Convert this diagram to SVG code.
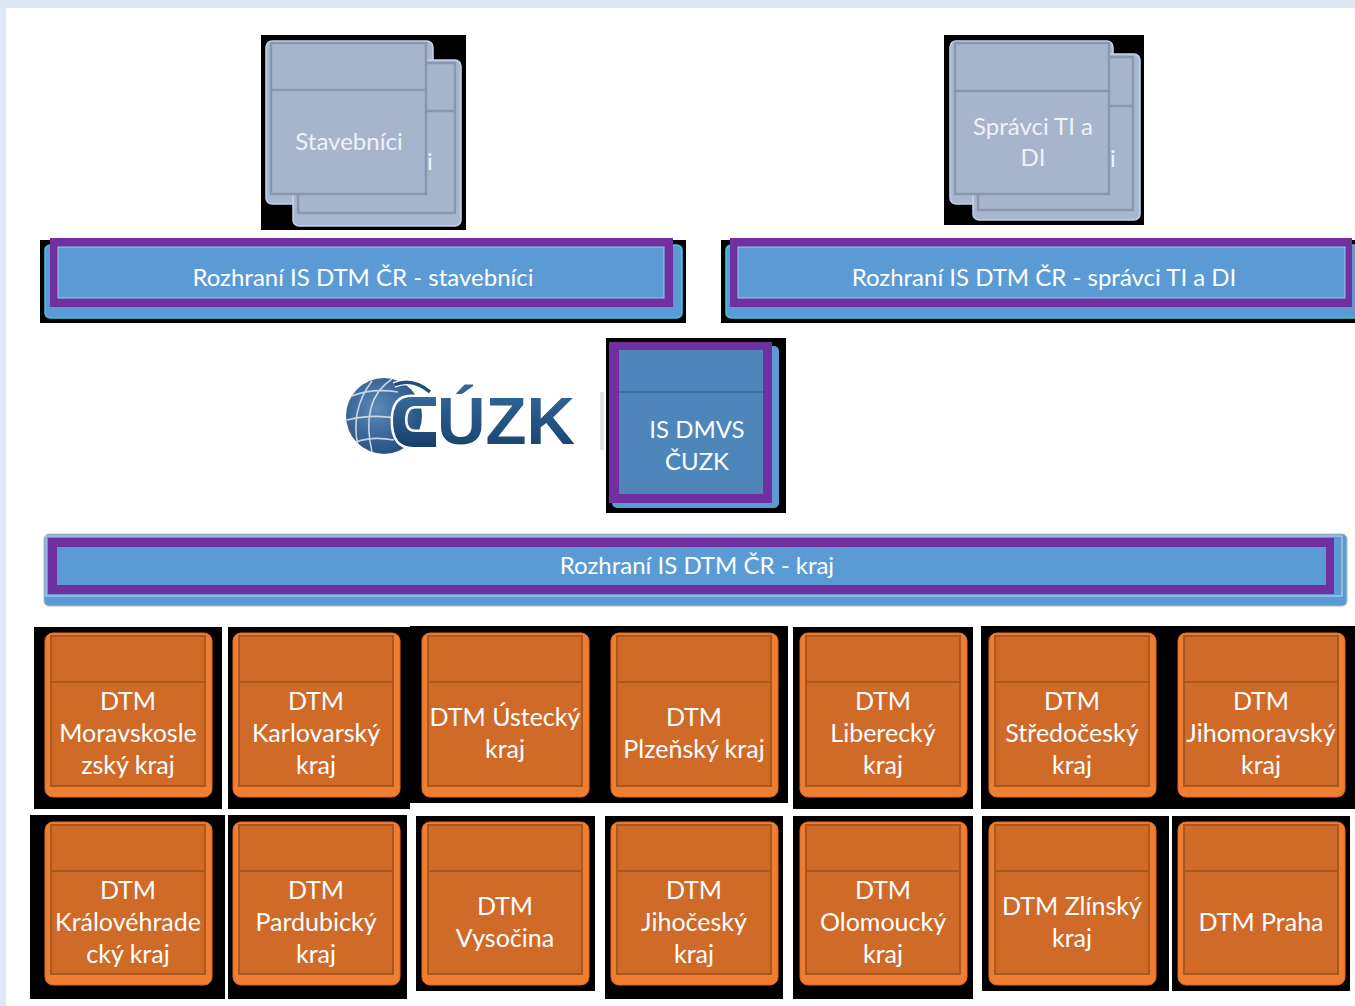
<svg xmlns="http://www.w3.org/2000/svg" width="1355" height="1006" viewBox="0 0 1355 1006">
<defs>
<style>
.bk{fill:#000}
.txt{font-family:Lato,"Liberation Sans",sans-serif;fill:#fff;text-anchor:middle;font-size:24px}
.tt{font-family:Lato,"Liberation Sans",sans-serif;fill:#fff;text-anchor:middle;font-size:25px}
.gtxt{font-family:Lato,"Liberation Sans",sans-serif;fill:#eef2f8;text-anchor:middle;font-size:24px}
.to{fill:#ef7e31;stroke:#e0662a;stroke-width:1}
.ti{fill:#d06a29;stroke:#a9591f;stroke-width:2}
.th{stroke:#a9591f;stroke-width:2}
.go{fill:#a9b8d0;stroke:#c3d3ee;stroke-width:1.5}
.gi{fill:#a6b5cc;stroke:#8697ae;stroke-width:2.5}
.gh{stroke:#8697ae;stroke-width:2.5}
.pur{fill:#7030a0}
.bar{fill:#5b9bd5}
.barb{fill:#5b9bd5;stroke:#3fc7dd;stroke-width:1.5}
</style>
<radialGradient id="globe" cx="0.4" cy="0.4" r="0.7">
<stop offset="0" stop-color="#5b89b8"/>
<stop offset="1" stop-color="#1d4a7a"/>
</radialGradient>
<linearGradient id="logoTxt" x1="0" y1="0" x2="0" y2="1">
<stop offset="0" stop-color="#35699c"/>
<stop offset="1" stop-color="#163f6b"/>
</linearGradient>
</defs>

<rect width="1355" height="1006" fill="#fff"/>
<rect x="0" y="0" width="1355" height="8" fill="#dde8f4"/>
<rect x="0" y="0" width="6" height="1006" fill="#dde8f4"/>

<g id="backdrops">
<rect class="bk" x="261" y="35" width="205" height="195"/>
<rect class="bk" x="944" y="35" width="200" height="190"/>
<rect class="bk" x="40" y="240" width="646" height="83"/>
<rect class="bk" x="721" y="240" width="634" height="83"/>
<rect class="bk" x="606" y="338" width="180" height="175"/>
<rect class="bk" x="34" y="627" width="188" height="182"/>
<rect class="bk" x="228" y="627" width="182" height="182"/>
<rect class="bk" x="410" y="626" width="378" height="177"/>
<rect class="bk" x="793" y="627" width="180" height="182"/>
<rect class="bk" x="981" y="626" width="374" height="183"/>
<rect class="bk" x="30" y="815" width="195" height="184"/>
<rect class="bk" x="228" y="815" width="179" height="184"/>
<rect class="bk" x="416" y="816" width="179" height="175"/>
<rect class="bk" x="605" y="816" width="178" height="183"/>
<rect class="bk" x="793" y="816" width="180" height="183"/>
<rect class="bk" x="982" y="816" width="187" height="175"/>
<rect class="bk" x="1172" y="816" width="178" height="175"/>
</g>

<g id="connectors"></g>

<g id="stavebnici">
<rect class="go" x="266" y="41" width="167" height="163" rx="6"/>
<rect class="go" x="293" y="60" width="168" height="166" rx="6"/>
<rect class="gi" x="298" y="63" width="157" height="150"/>
<line class="gh" x1="298" y1="111" x2="455" y2="111"/>
<text class="gtxt" x="430" y="170">i</text>
<rect class="gi" x="271" y="43" width="155" height="151"/>
<line class="gh" x1="271" y1="90" x2="426" y2="90"/>
<text class="gtxt" x="349" y="150">Stavebníci</text>
</g>

<g id="spravci">
<rect class="go" x="950" y="41" width="163" height="163" rx="6"/>
<rect class="go" x="973" y="54" width="167" height="166" rx="6"/>
<rect class="gi" x="978" y="57" width="155" height="153"/>
<line class="gh" x1="978" y1="106" x2="1133" y2="106"/>
<text class="gtxt" x="1113" y="167">i</text>
<rect class="gi" x="955" y="43" width="154" height="151"/>
<line class="gh" x1="955" y1="91" x2="1109" y2="91"/>
<text class="gtxt" x="1033" y="135">Správci TI a</text>
<text class="gtxt" x="1033" y="166">DI</text>
</g>

<g id="rozhrani-stavebnici">
<rect class="barb" x="45" y="245" width="637" height="73" rx="5"/>
<rect class="pur" x="50" y="238" width="623" height="69"/>
<rect class="bar" x="58" y="247" width="606" height="51" stroke="#9cc2e8" stroke-width="1"/>
<text class="txt" x="363" y="286">Rozhraní IS DTM ČR - stavebníci</text>
</g>

<g id="rozhrani-spravci">
<rect class="barb" x="726" y="245" width="640" height="73" rx="5"/>
<rect class="pur" x="730" y="238" width="622" height="69"/>
<rect class="bar" x="738" y="247" width="607" height="51" stroke="#9cc2e8" stroke-width="1"/>
<text class="txt" x="1044" y="286">Rozhraní IS DTM ČR - správci TI a DI</text>
</g>

<g id="logo-cuzk">
<circle cx="384" cy="416" r="38" fill="url(#globe)"/>
<g fill="none" stroke="#e8eef6" stroke-width="1.6" opacity="0.8">
<path d="M392 379 Q360 400 372 452"/>
<path d="M372 381 Q350 410 358 446"/>
<path d="M352 396 Q372 388 398 392"/>
<path d="M347 420 Q370 414 396 418"/>
<path d="M356 442 Q372 436 394 440"/>
</g>
<path d="M436 397 L411 397 Q393 397 393 421 Q393 447 413 447 L436 447 L436 432 L415 432 Q405 432 405 420 Q405 406 415 406 L436 406 Z" fill="none" stroke="#fff" stroke-width="5"/>
<path d="M436 397 L411 397 Q393 397 393 421 Q393 447 413 447 L436 447 L436 432 L415 432 Q405 432 405 420 Q405 406 415 406 L436 406 Z" fill="url(#logoTxt)"/>
<path d="M394 385 Q412 377 430 392" fill="none" stroke="#fff" stroke-width="6"/>
<path d="M394 385 Q412 377 430 392" fill="none" stroke="#1f4f80" stroke-width="3.5"/>
<text x="437" y="444" font-family="'Liberation Sans',Arial,sans-serif" font-weight="bold" font-size="66" fill="url(#logoTxt)" textLength="138" lengthAdjust="spacingAndGlyphs">ÚZK</text>
<rect x="600" y="392" width="4" height="58" fill="#e2e2e2"/>
</g>

<g id="is-dmvs">
<rect x="612" y="346" width="167" height="162" rx="5" fill="#5b9bd5"/>
<rect class="pur" x="609" y="342" width="163" height="161"/>
<rect x="619" y="350" width="144" height="144" fill="#4e86bc"/>
<line x1="619" y1="392" x2="763" y2="392" stroke="#3e6f9d" stroke-width="2"/>
<text class="txt" x="697" y="438">IS DMVS</text>
<text class="txt" x="697" y="470">ČUZK</text>
</g>

<g id="rozhrani-kraj">
<rect x="44" y="534" width="1303" height="72" rx="5" fill="#5b9bd5" stroke="#b9b9b9" stroke-width="1"/>
<rect x="46" y="536" width="1296" height="60" fill="none" stroke="#d0d8e0" stroke-width="1"/>
<rect class="pur" x="48" y="538" width="1286" height="56"/>
<rect class="bar" x="57" y="547" width="1269" height="38"/>
<text class="txt" x="697" y="574">Rozhraní IS DTM ČR - kraj</text>
</g>

<g id="dtm-moravskoslezsky" transform="translate(45,633)">
<rect class="to" x="0" y="0" width="167" height="164" rx="8"/>
<rect class="ti" x="6" y="3" width="154" height="150"/>
<line class="th" x1="6" y1="49" x2="160" y2="49"/>
<text class="tt" x="83" y="77">DTM</text>
<text class="tt" x="83" y="109">Moravskosle</text>
<text class="tt" x="83" y="141">zský kraj</text>
</g>
<g id="dtm-karlovarsky" transform="translate(233,633)">
<rect class="to" x="0" y="0" width="167" height="164" rx="8"/>
<rect class="ti" x="6" y="3" width="154" height="150"/>
<line class="th" x1="6" y1="49" x2="160" y2="49"/>
<text class="tt" x="83" y="77">DTM</text>
<text class="tt" x="83" y="109">Karlovarský</text>
<text class="tt" x="83" y="141">kraj</text>
</g>
<g id="dtm-ustecky" transform="translate(422,633)">
<rect class="to" x="0" y="0" width="167" height="164" rx="8"/>
<rect class="ti" x="6" y="3" width="154" height="150"/>
<line class="th" x1="6" y1="49" x2="160" y2="49"/>
<text class="tt" x="83" y="93">DTM Ústecký</text>
<text class="tt" x="83" y="125">kraj</text>
</g>
<g id="dtm-plzensky" transform="translate(611,633)">
<rect class="to" x="0" y="0" width="167" height="164" rx="8"/>
<rect class="ti" x="6" y="3" width="154" height="150"/>
<line class="th" x1="6" y1="49" x2="160" y2="49"/>
<text class="tt" x="83" y="93">DTM</text>
<text class="tt" x="83" y="125">Plzeňský kraj</text>
</g>
<g id="dtm-liberecky" transform="translate(800,633)">
<rect class="to" x="0" y="0" width="167" height="164" rx="8"/>
<rect class="ti" x="6" y="3" width="154" height="150"/>
<line class="th" x1="6" y1="49" x2="160" y2="49"/>
<text class="tt" x="83" y="77">DTM</text>
<text class="tt" x="83" y="109">Liberecký</text>
<text class="tt" x="83" y="141">kraj</text>
</g>
<g id="dtm-stredocesky" transform="translate(989,633)">
<rect class="to" x="0" y="0" width="167" height="164" rx="8"/>
<rect class="ti" x="6" y="3" width="154" height="150"/>
<line class="th" x1="6" y1="49" x2="160" y2="49"/>
<text class="tt" x="83" y="77">DTM</text>
<text class="tt" x="83" y="109">Středočeský</text>
<text class="tt" x="83" y="141">kraj</text>
</g>
<g id="dtm-jihomoravsky" transform="translate(1178,633)">
<rect class="to" x="0" y="0" width="167" height="164" rx="8"/>
<rect class="ti" x="6" y="3" width="154" height="150"/>
<line class="th" x1="6" y1="49" x2="160" y2="49"/>
<text class="tt" x="83" y="77">DTM</text>
<text class="tt" x="83" y="109">Jihomoravský</text>
<text class="tt" x="83" y="141">kraj</text>
</g>

<g id="dtm-kralovehradecky" transform="translate(45,822)">
<rect class="to" x="0" y="0" width="167" height="163" rx="8"/>
<rect class="ti" x="6" y="3" width="154" height="149"/>
<line class="th" x1="6" y1="49" x2="160" y2="49"/>
<text class="tt" x="83" y="77">DTM</text>
<text class="tt" x="83" y="109">Královéhrade</text>
<text class="tt" x="83" y="141">cký kraj</text>
</g>
<g id="dtm-pardubicky" transform="translate(233,822)">
<rect class="to" x="0" y="0" width="167" height="163" rx="8"/>
<rect class="ti" x="6" y="3" width="154" height="149"/>
<line class="th" x1="6" y1="49" x2="160" y2="49"/>
<text class="tt" x="83" y="77">DTM</text>
<text class="tt" x="83" y="109">Pardubický</text>
<text class="tt" x="83" y="141">kraj</text>
</g>
<g id="dtm-vysocina" transform="translate(422,822)">
<rect class="to" x="0" y="0" width="167" height="163" rx="8"/>
<rect class="ti" x="6" y="3" width="154" height="149"/>
<line class="th" x1="6" y1="49" x2="160" y2="49"/>
<text class="tt" x="83" y="93">DTM</text>
<text class="tt" x="83" y="125">Vysočina</text>
</g>
<g id="dtm-jihocesky" transform="translate(611,822)">
<rect class="to" x="0" y="0" width="167" height="163" rx="8"/>
<rect class="ti" x="6" y="3" width="154" height="149"/>
<line class="th" x1="6" y1="49" x2="160" y2="49"/>
<text class="tt" x="83" y="77">DTM</text>
<text class="tt" x="83" y="109">Jihočeský</text>
<text class="tt" x="83" y="141">kraj</text>
</g>
<g id="dtm-olomoucky" transform="translate(800,822)">
<rect class="to" x="0" y="0" width="167" height="163" rx="8"/>
<rect class="ti" x="6" y="3" width="154" height="149"/>
<line class="th" x1="6" y1="49" x2="160" y2="49"/>
<text class="tt" x="83" y="77">DTM</text>
<text class="tt" x="83" y="109">Olomoucký</text>
<text class="tt" x="83" y="141">kraj</text>
</g>
<g id="dtm-zlinsky" transform="translate(989,822)">
<rect class="to" x="0" y="0" width="167" height="163" rx="8"/>
<rect class="ti" x="6" y="3" width="154" height="149"/>
<line class="th" x1="6" y1="49" x2="160" y2="49"/>
<text class="tt" x="83" y="93">DTM Zlínský</text>
<text class="tt" x="83" y="125">kraj</text>
</g>
<g id="dtm-praha" transform="translate(1178,822)">
<rect class="to" x="0" y="0" width="167" height="163" rx="8"/>
<rect class="ti" x="6" y="3" width="154" height="149"/>
<line class="th" x1="6" y1="49" x2="160" y2="49"/>
<text class="tt" x="83" y="109">DTM Praha</text>
</g>
</svg>
